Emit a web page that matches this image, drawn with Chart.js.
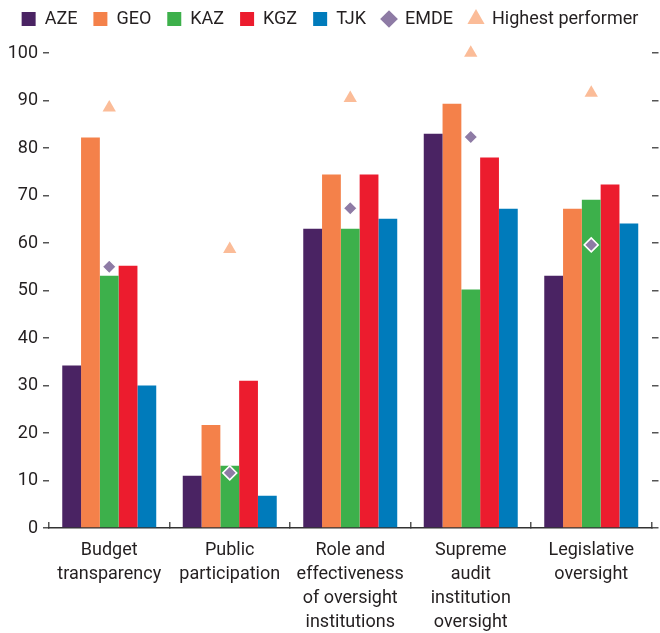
<!DOCTYPE html>
<html>
<head>
<meta charset="utf-8">
<script src="https://cdn.jsdelivr.net/npm/chart.js@4"></script>
<style>
  html, body { margin: 0; padding: 0; background: #fff; }
  #wrap { width: 660px; height: 633px; }
</style>
</head>
<body>
<div id="wrap"><canvas id="chart" width="660" height="633"></canvas></div>
<script>
const categories = [
  ['Budget', 'transparency'],
  ['Public', 'participation'],
  ['Role and', 'effectiveness', 'of oversight', 'institutions'],
  ['Supreme', 'audit', 'institution', 'oversight'],
  ['Legislative', 'oversight']
];
const aze = [34.2, 11.0, 63.0, 83.0, 53.1];
const geo = [82.2, 21.7, 74.4, 89.3, 67.2];
const kaz = [53.1, 13.1, 63.0, 50.2, 69.1];
const kgz = [55.2, 31.0, 74.4, 78.0, 72.3];
const tjk = [30.0, 6.8, 65.1, 67.2, 64.1];
const emde = [55.0, 11.6, 67.3, 82.3, 59.6];
const highest = [88.5, 58.7, 90.5, 100, 91.6];
const yTicks = [0, 10, 20, 30, 40, 50, 60, 70, 80, 90, 100];

const fontFamily = "Roboto, 'Liberation Sans', sans-serif";
const textColor = '#231f20';
const axisColor = '#555555';

Chart.defaults.font.family = fontFamily;
Chart.defaults.color = textColor;

function bar(label, values, color) {
  return {
    type: 'bar',
    label: label,
    data: values,
    backgroundColor: color,
    borderWidth: 0,
    pointStyle: 'rect',
    order: 1
  };
}

const ctx = document.getElementById('chart').getContext('2d');

new Chart(ctx, {
  data: {
    labels: categories,
    datasets: [
      bar('AZE', aze, '#4a2363'),
      bar('GEO', geo, '#f4814a'),
      bar('KAZ', kaz, '#3db04b'),
      bar('KGZ', kgz, '#ec1c2e'),
      bar('TJK', tjk, '#007bbb'),
      {
        type: 'line',
        label: 'EMDE',
        data: emde,
        showLine: false,
        clip: false,
        pointStyle: 'rectRot',
        pointRadius: 7,
        pointHoverRadius: 7,
        pointBackgroundColor: '#8e7ba5',
        pointBorderColor: '#ffffff',
        pointBorderWidth: 1.5,
        order: 0
      },
      {
        type: 'line',
        label: 'Highest performer',
        data: highest,
        showLine: false,
        clip: false,
        pointStyle: 'triangle',
        pointRadius: 7.7,
        pointHoverRadius: 7.7,
        pointBackgroundColor: '#fbbc98',
        pointBorderColor: '#fbbc98',
        pointBorderWidth: 0,
        order: 0
      }
    ]
  },
  options: {
    responsive: false,
    animation: false,
    categoryPercentage: 0.78,
    barPercentage: 1,
    layout: {
      padding: { top: -6, left: 0, right: 0, bottom: 0 }
    },
    plugins: {
      legend: {
        position: 'top',
        weight: 1000,
        labels: {
          usePointStyle: true,
          boxWidth: 14,
          boxHeight: 14,
          padding: 16,
          color: textColor,
          font: { size: 18 },
          sort: (a, b) => a.datasetIndex - b.datasetIndex
        }
      },
      // empty title used as a spacer between the legend and the plot
      title: {
        display: true,
        text: '',
        weight: 500,
        padding: 0,
        font: { size: 10, lineHeight: 1.5 }
      },
      tooltip: { enabled: false }
    },
    scales: {
      x: {
        grid: {
          offset: true,
          drawOnChartArea: false,
          drawTicks: true,
          tickLength: -6,
          color: axisColor,
          lineWidth: 1.5
        },
        border: { display: true, color: '#333333', width: 1.5 },
        ticks: {
          padding: 17,
          autoSkip: false,
          maxRotation: 0,
          minRotation: 0,
          color: textColor,
          font: { size: 18, lineHeight: 1.333 }
        },
        afterFit: (s) => { s.height = 105; }
      },
      y: {
        position: 'left',
        min: 0,
        max: 100,
        afterBuildTicks: (s) => { s.ticks = yTicks.map(v => ({ value: v })); },
        grid: {
          drawOnChartArea: false,
          drawTicks: true,
          tickLength: 6,
          color: axisColor,
          lineWidth: 1.5
        },
        border: { display: false },
        ticks: {
          padding: 5,
          color: textColor,
          font: { size: 18 }
        },
        afterFit: (s) => { s.width = 49; }
      },
      y2: {
        position: 'right',
        min: 0,
        max: 100,
        afterBuildTicks: (s) => { s.ticks = yTicks.map(v => ({ value: v })); },
        grid: {
          drawOnChartArea: false,
          drawTicks: true,
          tickLength: 7,
          color: axisColor,
          lineWidth: 1.5
        },
        border: { display: false },
        ticks: { display: false }
      }
    }
  }
});
</script>
</body>
</html>
